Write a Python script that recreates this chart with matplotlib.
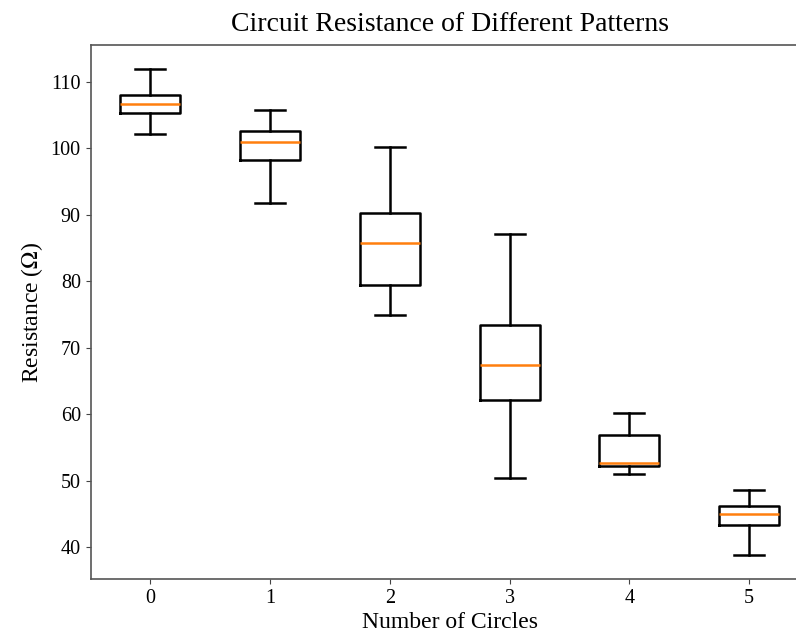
"""Box plot of circuit resistance vs number of circles."""

import matplotlib

matplotlib.use("Agg")
import matplotlib.pyplot as plt

# five-number summaries
circles = [0, 1, 2, 3, 4, 5]
whisker_low = [102.2, 91.8, 75.0, 50.5, 51.0, 38.9]
q1 = [105.3, 98.2, 79.4, 62.2, 52.2, 43.3]
median = [106.7, 101.0, 85.8, 67.4, 52.7, 45.0]
q3 = [108.1, 102.6, 90.3, 73.4, 56.9, 46.3]
whisker_high = [111.9, 105.8, 100.2, 87.1, 60.2, 48.6]


def main() -> None:
    plt.rcParams["font.family"] = ["Liberation Serif", "DejaVu Serif"]
    plt.rcParams["mathtext.fontset"] = "stix"

    stats = [
        {
            "label": str(c),
            "whislo": lo,
            "q1": a,
            "med": m,
            "q3": b,
            "whishi": hi,
            "fliers": [],
        }
        for c, lo, a, m, b, hi in zip(
            circles, whisker_low, q1, median, q3, whisker_high
        )
    ]

    fig = plt.figure(figsize=(7.96, 6.38), dpi=100)
    # axes run past the right edge, as in the cropped original
    ax = fig.add_axes([90.5 / 796, 59 / 638, 718.5 / 796, 534 / 638])

    lw = 1.8
    ax.bxp(
        stats,
        widths=0.5,
        boxprops=dict(linewidth=lw, color="black"),
        whiskerprops=dict(linewidth=lw, color="black"),
        capprops=dict(linewidth=lw, color="black"),
        medianprops=dict(linewidth=lw, color="#ff7f0e"),
    )

    ax.set_title("Circuit Resistance of Different Patterns", fontsize=20, pad=10)
    ax.set_xlabel("Number of Circles", fontsize=17, labelpad=3)
    ax.set_ylabel(r"Resistance ($\Omega$)", fontsize=17)
    ax.tick_params(labelsize=14.5, color="#444444")
    for side in ax.spines.values():
        side.set_color("#555555")
        side.set_linewidth(1.2)

    fig.savefig("out.png", dpi=100)


if __name__ == "__main__":
    main()
